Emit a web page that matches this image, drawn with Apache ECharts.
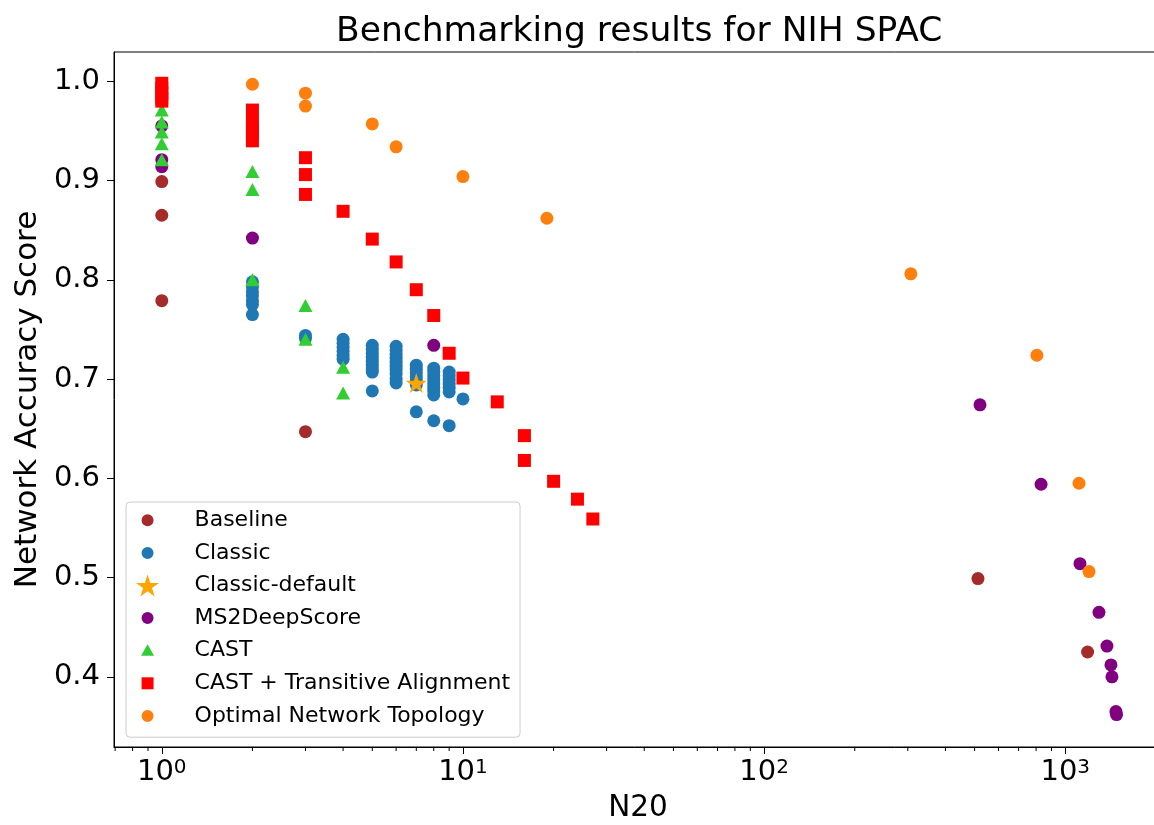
<!DOCTYPE html>
<html>
<head>
<meta charset="utf-8">
<script src="https://cdn.jsdelivr.net/npm/echarts@6/dist/echarts.min.js"></script>
<style>
  html, body { margin: 0; padding: 0; background: #fff; }
  #main { width: 1154px; height: 825px; }
</style>
</head>
<body>
<div id="main"></div>
<script>
// values (x = N20, y = network accuracy score)
var baselineX = [1, 1, 1, 3, 513, 1186];
var baselineY = [0.899, 0.865, 0.779, 0.647, 0.499, 0.425];

var classicX = [2, 2, 2, 2, 2, 2, 2, 3, 3, 4, 4, 4, 4, 4, 4, 5, 5, 5, 5, 5, 5, 5, 5, 5,
                6, 6, 6, 6, 6, 6, 6, 6, 6, 6, 7, 7, 7, 7, 7, 7, 7, 8, 8, 8, 8, 8, 8, 8, 8, 8,
                9, 9, 9, 9, 9, 9, 9, 10];
var classicY = [0.798, 0.793, 0.788, 0.784, 0.779, 0.775, 0.765, 0.744, 0.741,
                0.740, 0.736, 0.732, 0.728, 0.724, 0.720,
                0.734, 0.730, 0.726, 0.722, 0.718, 0.714, 0.710, 0.707, 0.688,
                0.733, 0.729, 0.725, 0.721, 0.717, 0.713, 0.709, 0.705, 0.700, 0.696,
                0.714, 0.710, 0.706, 0.702, 0.698, 0.694, 0.667,
                0.711, 0.707, 0.703, 0.699, 0.695, 0.691, 0.688, 0.684, 0.658,
                0.707, 0.703, 0.699, 0.695, 0.691, 0.687, 0.653, 0.680];

var classicDefaultX = [7];
var classicDefaultY = [0.696];

var ms2X = [1, 1, 1, 2, 8, 521, 831, 1119, 1294, 1375, 1418, 1429, 1473, 1480];
var ms2Y = [0.955, 0.921, 0.914, 0.842, 0.734, 0.674, 0.594, 0.514, 0.465, 0.431, 0.412, 0.400, 0.365, 0.362];

var castX = [1, 1, 1, 1, 1, 2, 2, 2, 3, 3, 4, 4];
var castY = [0.971, 0.959, 0.949, 0.937, 0.921, 0.909, 0.891, 0.800, 0.774, 0.740, 0.712, 0.686];

var castTaX = [1, 1, 1, 1, 1, 2, 2, 2, 2, 2, 3, 3, 3, 4, 5, 6, 7, 8, 9, 10, 13, 16, 16, 20, 24, 27];
var castTaY = [0.998, 0.993, 0.988, 0.983, 0.980, 0.971, 0.959, 0.953, 0.947, 0.940,
               0.923, 0.906, 0.886, 0.869, 0.841, 0.818, 0.790, 0.764, 0.726, 0.701,
               0.677, 0.643, 0.618, 0.597, 0.579, 0.559];

var optimalX = [2, 3, 3, 5, 6, 10, 19, 307, 805, 1111, 1199];
var optimalY = [0.997, 0.988, 0.975, 0.957, 0.934, 0.904, 0.862, 0.806, 0.724, 0.595, 0.506];

var yTicks = [0.4, 0.5, 0.6, 0.7, 0.8, 0.9, 1.0];
var xTicks = [1, 10, 100, 1000];
var xMinorTicks = [0.7, 0.8, 0.9, 2, 3, 4, 5, 6, 7, 8, 9, 20, 30, 40, 50, 60, 70, 80, 90,
                   200, 300, 400, 500, 600, 700, 800, 900, 2000];

var xMin = 0.694, xMax = 2095;
var yMin = 0.3293, yMax = 1.0295;

var FONT = 'DejaVu Sans';
var STAR = 'path://M50,0L61.23,34.55L97.55,34.55L68.17,55.9L79.39,90.45L50,69.1L20.61,90.45L31.83,55.9L2.45,34.55L38.77,34.55Z';
var DOT = 'path://M0,0M22,22M11,5A6,6,0,1,1,10.99,5Z';

function zip(xs, ys) {
    var out = [];
    for (var i = 0; i < xs.length; i++) {
        out.push([xs[i], ys[i]]);
    }
    return out;
}

function scatter(name, xs, ys, symbol, size, color) {
    return {
        name: name,
        type: 'scatter',
        symbol: symbol,
        symbolSize: size,
        symbolKeepAspect: true,
        itemStyle: { color: color, opacity: 1 },
        emphasis: { disabled: true },
        data: zip(xs, ys)
    };
}

var myChart = echarts.init(document.getElementById('main'));

var option = {
    animation: false,
    backgroundColor: '#fff',
    title: {
        text: 'Benchmarking results for NIH SPAC',
        left: 331,
        top: 10,
        textStyle: { fontFamily: FONT, fontSize: 34.5, fontWeight: 'normal', color: '#000' }
    },
    legend: {
        orient: 'vertical',
        left: 126,
        top: 502,
        padding: [2, 10, 5, 10],
        itemGap: 0,
        itemWidth: 40,
        itemHeight: 22,
        backgroundColor: 'rgba(255,255,255,0.8)',
        borderColor: '#cccccc',
        borderWidth: 1,
        borderRadius: 4,
        textStyle: { fontFamily: FONT, fontSize: 22, color: '#000', lineHeight: 32.6, padding: [0, 0, 0, 22] },
        data: [
            { name: 'Baseline', icon: DOT },
            { name: 'Classic', icon: DOT },
            { name: 'Classic-default', icon: STAR },
            { name: 'MS2DeepScore', icon: DOT },
            { name: 'CAST', icon: 'path://M0,0M22,22M11,4.5L17.5,16L4.5,16Z' },
            { name: 'CAST + Transitive Alignment', icon: 'path://M0,0M22,22M5,5L17,5L17,17L5,17Z' },
            { name: 'Optimal Network Topology', icon: DOT }
        ]
    },
    grid: {
        left: 114,
        top: 52,
        width: 1048,
        bottom: 78,
        show: true,
        borderColor: '#000',
        borderWidth: 1,
        containLabel: false,
        outerBoundsMode: 'none'
    },
    xAxis: {
        type: 'log',
        logBase: 10,
        min: xMin,
        max: xMax,
        name: 'N20',
        nameLocation: 'middle',
        nameGap: 46,
        nameTextStyle: { fontFamily: FONT, fontSize: 29.5, color: '#000' },
        splitLine: { show: false },
        axisLine: { show: true, lineStyle: { color: '#000', width: 1 } },
        axisTick: { show: true, inside: false, length: 7, customValues: xTicks, lineStyle: { color: '#000' } },
        axisLabel: {
            customValues: xTicks,
            margin: 11,
            formatter: function (v) {
                return '{b|10}{s|' + Math.round(Math.log10(v)) + '}';
            },
            rich: {
                b: { fontFamily: FONT, fontSize: 29, lineHeight: 29, color: '#000' },
                s: { fontFamily: FONT, fontSize: 20, lineHeight: 6, color: '#000', verticalAlign: 'top' }
            }
        }
    },
    yAxis: {
        type: 'value',
        min: yMin,
        max: yMax,
        name: 'Network Accuracy Score',
        nameLocation: 'middle',
        nameGap: 70,
        nameTextStyle: { fontFamily: FONT, fontSize: 31, color: '#000' },
        splitLine: { show: false },
        axisLine: { show: true, lineStyle: { color: '#000', width: 1 } },
        axisTick: { show: true, inside: false, length: 7, customValues: yTicks, lineStyle: { color: '#000' } },
        axisLabel: {
            customValues: yTicks,
            margin: 14,
            fontFamily: FONT,
            fontSize: 29,
            color: '#000',
            formatter: function (v) { return v.toFixed(1); }
        }
    },
    series: [
        scatter('Baseline', baselineX, baselineY, 'circle', 13, '#a52a2a'),
        scatter('Classic', classicX, classicY, 'circle', 13, '#1f77b4'),
        scatter('Classic-default', classicDefaultX, classicDefaultY, STAR, 21, '#ffa500'),
        scatter('MS2DeepScore', ms2X, ms2Y, 'circle', 13, '#800080'),
        scatter('CAST', castX, castY, 'triangle', [14, 13], '#32cd32'),
        scatter('CAST + Transitive Alignment', castTaX, castTaY, 'rect', 13, '#ff0000'),
        scatter('Optimal Network Topology', optimalX, optimalY, 'circle', 13, '#ff7f0e'),
        {
            // minor ticks of the log axis at 2..9 of each decade
            name: 'minor',
            type: 'custom',
            clip: false,
            silent: true,
            data: xMinorTicks.map(function (v) { return [v, yMin]; }),
            renderItem: function (params, api) {
                var p = api.coord([api.value(0), api.value(1)]);
                return {
                    type: 'line',
                    shape: { x1: p[0], y1: p[1], x2: p[0], y2: p[1] + 4 },
                    style: { stroke: '#000', lineWidth: 1 }
                };
            }
        }
    ]
};

myChart.setOption(option);
</script>
</body>
</html>
